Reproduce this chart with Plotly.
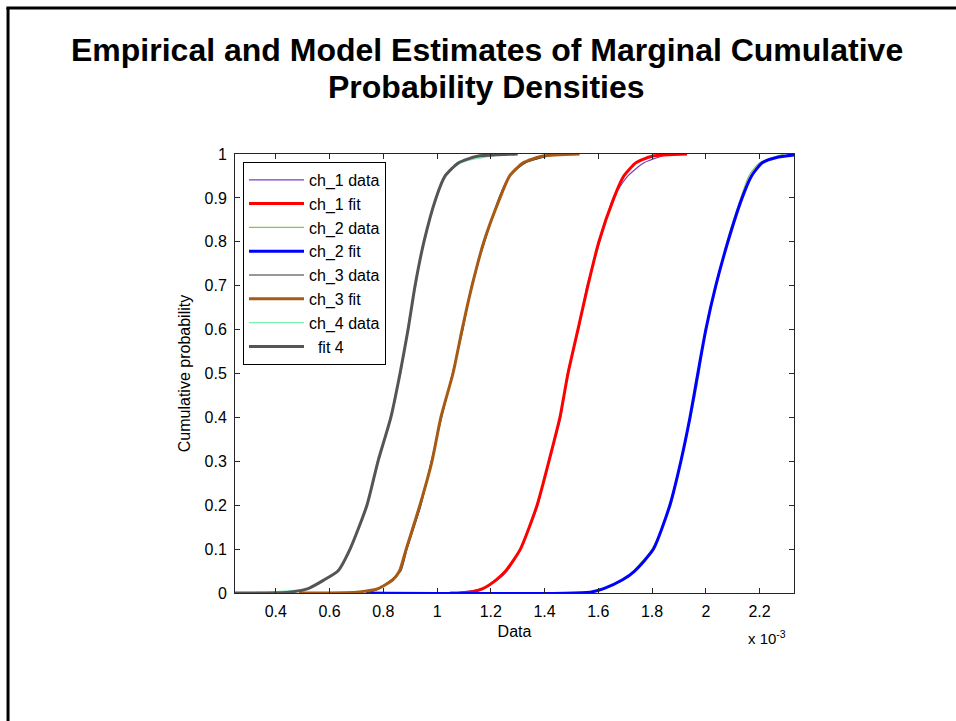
import plotly.graph_objects as go

# Values in units of 1e-3
levels = [0, 0.002, 0.01, 0.03, 0.05, 0.1, 0.2, 0.3, 0.4, 0.5, 0.6, 0.7, 0.8, 0.9, 0.95, 0.98, 0.995, 1.0]
data_levels = [0, 0.01, 0.03, 0.05, 0.1, 0.2, 0.3, 0.4, 0.5, 0.6, 0.7, 0.8, 0.9, 0.95, 0.98, 1.0]

ch1_data_x = [1.06, 1.17, 1.225, 1.26, 1.31, 1.375, 1.414, 1.46, 1.485, 1.526, 1.558, 1.605, 1.655, 1.71, 1.77, 1.86]
ch2_data_x = [1.55, 1.615, 1.695, 1.73, 1.80, 1.87, 1.905, 1.944, 1.975, 1.998, 2.04, 2.078, 2.13, 2.16, 2.20, 2.29]
ch3_data_x = [0.74, 0.785, 0.83, 0.865, 0.888, 0.94, 0.978, 1.017, 1.057, 1.096, 1.128, 1.177, 1.23, 1.27, 1.33, 1.45]
ch4_data_x = [0.248, 0.525, 0.585, 0.628, 0.679, 0.736, 0.783, 0.825, 0.865, 0.889, 0.921, 0.948, 0.999, 1.03, 1.09, 1.25]

ch1_fit_x = [1.048, 1.12, 1.17, 1.22, 1.255, 1.31, 1.372, 1.416, 1.457, 1.487, 1.524, 1.561, 1.602, 1.658, 1.695, 1.74, 1.80, 1.93]
ch2_fit_x = [0.735, 1.57, 1.62, 1.69, 1.735, 1.805, 1.866, 1.907, 1.941, 1.970, 2.000, 2.037, 2.082, 2.135, 2.17, 2.21, 2.27, 2.328]
ch2_fit_p = [0, 0.002, 0.01, 0.03, 0.05, 0.1, 0.2, 0.3, 0.4, 0.5, 0.6, 0.7, 0.8, 0.9, 0.95, 0.98, 0.993, 0.998]
ch3_fit_x = [0.486, 0.70, 0.78, 0.835, 0.86, 0.885, 0.936, 0.981, 1.014, 1.059, 1.093, 1.130, 1.174, 1.234, 1.27, 1.32, 1.39, 1.53]
fit4_x = [0.248, 0.45, 0.52, 0.58, 0.631, 0.676, 0.739, 0.780, 0.828, 0.862, 0.892, 0.918, 0.951, 0.996, 1.030, 1.080, 1.15, 1.30]

x_ticks = [0.4, 0.6, 0.8, 1, 1.2, 1.4, 1.6, 1.8, 2, 2.2]
y_ticks = [0, 0.1, 0.2, 0.3, 0.4, 0.5, 0.6, 0.7, 0.8, 0.9, 1]

FONT = "Liberation Sans, Arial, Helvetica, sans-serif"

series = [
    ("ch_1 data", ch1_data_x, data_levels, "#7a3cc0", 1.2),
    ("ch_1 fit", ch1_fit_x, levels, "#ff0000", 3),
    ("ch_2 data", ch2_data_x, data_levels, "#88c057", 1.2),
    ("ch_2 fit", ch2_fit_x, ch2_fit_p, "#0000ff", 3),
    ("ch_3 data", ch3_data_x, data_levels, "#333333", 1.2),
    ("ch_3 fit", ch3_fit_x, levels, "#a65a14", 3),
    ("ch_4 data", ch4_data_x, data_levels, "#80f0b0", 1.2),
    ("\u00a0\u00a0fit 4", fit4_x, levels, "#555555", 3),
]

fig = go.Figure()
for name, xs, ys, color, w in series:
    fig.add_trace(go.Scatter(x=xs, y=ys, mode="lines", name=name,
                             line=dict(color=color, width=w, shape="spline", smoothing=0.6)))

axis_common = dict(showgrid=False, zeroline=False, showline=True, mirror="ticks",
                   linecolor="#262626", linewidth=1, ticks="inside", ticklen=5,
                   tickcolor="#262626", tickfont=dict(family=FONT, size=16, color="#000"))

fig.update_layout(
    width=956, height=721,
    margin=dict(l=235, r=162, t=154, b=128),
    paper_bgcolor="white", plot_bgcolor="white",
    font=dict(family=FONT, color="#000"),
    xaxis=dict(range=[0.248, 2.328], tickvals=x_ticks, ticklabelstandoff=4,
               title=dict(text="Data", font=dict(family=FONT, size=16), standoff=6),
               **axis_common),
    yaxis=dict(range=[0, 1], tickvals=y_ticks, ticklabelstandoff=4,
               title=dict(text="Cumulative probability", font=dict(family=FONT, size=16), standoff=9),
               **axis_common),
    legend=dict(x=0.0143, y=0.982, xanchor="left", yanchor="top",
                bgcolor="white", bordercolor="#000", borderwidth=1,
                font=dict(family=FONT, size=16), itemwidth=55, tracegroupgap=0),
    showlegend=True,
)

fig.add_annotation(text="<b>Empirical and Model Estimates of Marginal Cumulative</b>",
                   xref="paper", yref="paper", x=0.4508, y=1.2369, xanchor="center", yanchor="middle",
                   showarrow=False, font=dict(family=FONT, size=32, color="#000"))
fig.add_annotation(text="<b>Probability Densities</b>",
                   xref="paper", yref="paper", x=0.4508, y=1.1526, xanchor="center", yanchor="middle",
                   showarrow=False, font=dict(family=FONT, size=32, color="#000"))
fig.add_annotation(text="x 10<sup>-3</sup>", xref="paper", yref="paper", x=0.952, y=-0.1025,
                   xanchor="center", yanchor="middle", showarrow=False,
                   font=dict(family=FONT, size=15, color="#000"))

# slide frame
fig.add_shape(type="line", xref="paper", yref="paper", x0=-0.406, x1=-0.406, y0=-0.4, y1=1.3326,
              line=dict(color="#000", width=3))
fig.add_shape(type="line", xref="paper", yref="paper", x0=-0.409, x1=1.35, y0=1.3326, y1=1.3326,
              line=dict(color="#000", width=3))

fig.write_html("out.html")
